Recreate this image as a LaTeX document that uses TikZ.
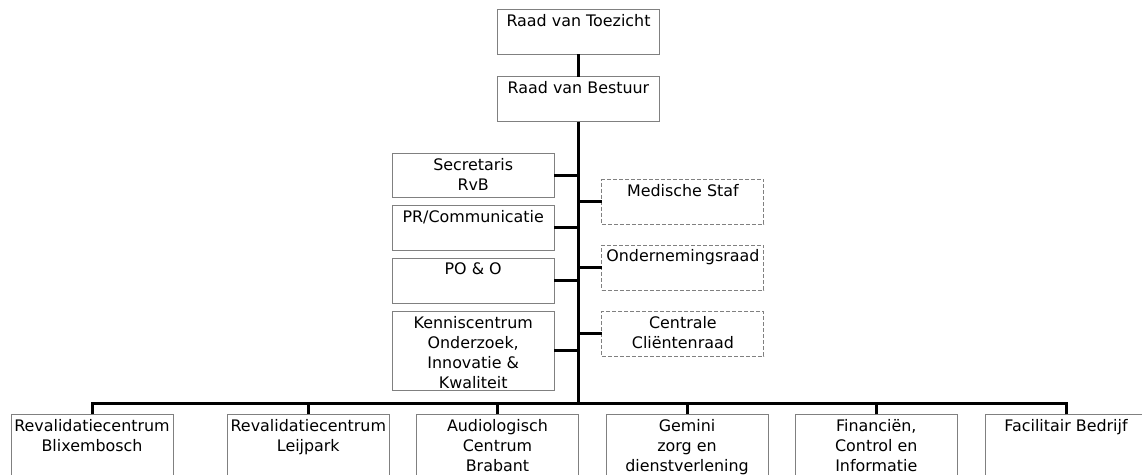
\documentclass[tikz,border=0pt]{standalone}
\usepackage{fontspec}
\setmainfont{DejaVu Sans}
\begin{document}
\begin{tikzpicture}[x=1pt,y=-1pt,
  conn/.style={line width=3pt, black},
  unit/.style={draw={rgb,255:red,128;green,128;blue,128}, line width=1pt,
    minimum width=162pt, minimum height=45pt, inner sep=0pt, outer sep=0pt, anchor=north},
  council/.style={unit, dash pattern=on 4pt off 2pt},
  caption/.style={anchor=north, inner sep=0pt, yshift=-4.5pt, align=center,
    font=\fontsize{15.9}{20}\selectfont}
]
\useasboundingbox (0,0) rectangle (1142,474);
\clip (0,0) rectangle (1142,474);

% top management
\node[unit, label={[caption]north:{Raad van Toezicht}}] (rvt) at (578.5,9.3) {};
\node[unit, label={[caption]north:{Raad van Bestuur}}] (rvb) at (578.5,76.5) {};

% staff departments (left)
\node[unit, minimum height=44.4pt, label={[caption]north:{Secretaris\\RvB}}] (sec) at (473.2,153.3) {};
\node[unit, minimum height=44.4pt, label={[caption]north:{PR/Communicatie}}] (pr) at (473.2,205.7) {};
\node[unit, minimum height=45pt, label={[caption]north:{PO \& O}}] (po) at (473.2,258.3) {};
\node[unit, minimum height=78.3pt, label={[caption]north:{Kenniscentrum\\Onderzoek,\\Innovatie \&\\Kwaliteit}}] (kc) at (473.2,311.7) {};

% advisory councils (right)
\node[council, minimum height=44.7pt, label={[caption]north:{Medische Staf}}] (ms) at (682.9,179.3) {};
\node[council, minimum height=45pt, label={[caption]north:{Ondernemingsraad}}] (or) at (682.9,245) {};
\node[council, minimum height=44.3pt, label={[caption]north:{Centrale\\Cliëntenraad}}] (cr) at (682.9,311.7) {};

% divisions (bottom row)
\node[unit, minimum height=76pt, label={[caption]north:{Revalidatiecentrum\\Blixembosch}}] (d1) at (92,414.3) {};
\node[unit, minimum height=76pt, label={[caption]north:{Revalidatiecentrum\\Leijpark}}] (d2) at (308.3,414.3) {};
\node[unit, minimum height=76pt, label={[caption]north:{Audiologisch\\Centrum\\Brabant}}] (d3) at (497.5,414.3) {};
\node[unit, minimum height=76pt, label={[caption]north:{Gemini\\zorg en\\dienstverlening}}] (d4) at (687,414.3) {};
\node[unit, minimum height=76pt, label={[caption]north:{Financiën,\\Control en\\Informatie}}] (d5) at (876.3,414.3) {};
\node[unit, minimum height=76pt, label={[caption]north:{Facilitair Bedrijf}}] (d6) at (1066,414.3) {};

% trunk and bus junction
\coordinate (hub) at (578.5,403);

\draw[conn] (rvt.south) -- (rvb.north);
\draw[conn] (rvb.south) -- (hub);

\foreach \n in {sec,pr,po,kc}
  \draw[conn] (\n.east) -- (\n.east -| hub);
\foreach \n in {ms,or,cr}
  \draw[conn] (\n.west) -- (\n.west -| hub);
\foreach \n in {d1,d2,d3,d4,d5,d6}
  \draw[conn] (\n.north) |- (hub);
\end{tikzpicture}
\end{document}
